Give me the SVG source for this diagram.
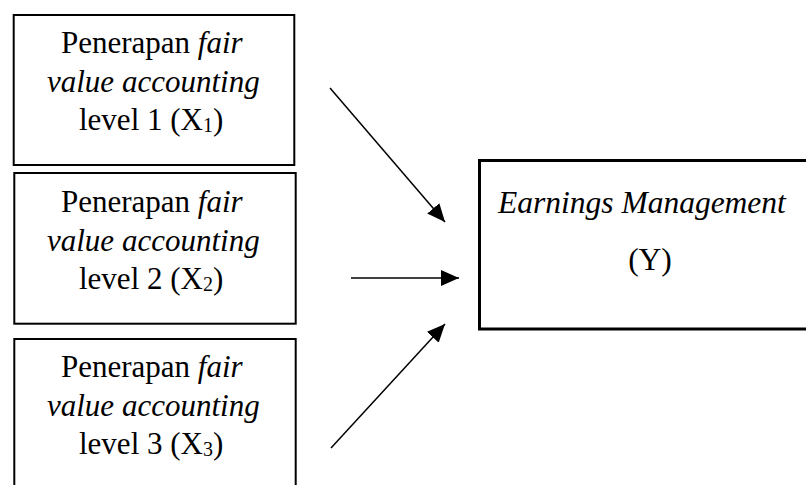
<svg xmlns="http://www.w3.org/2000/svg" width="806" height="485" viewBox="0 0 806 485">
<style>
  .box { fill: #ffffff; stroke: #000000; stroke-width: 2; }
  .boxy { fill: #ffffff; stroke: #000000; stroke-width: 3; }
  text { font-family: "Liberation Serif", "Times New Roman", serif; font-size: 31px; fill: #000000; }
  .it { font-style: italic; }
  .sub { font-size: 20px; }
  .conn { stroke: #000000; stroke-width: 1.5; fill: none; }
</style>
<defs>
  <marker id="ahb" viewBox="0 0 18 16" refX="18" refY="8" markerWidth="18" markerHeight="16" markerUnits="userSpaceOnUse" orient="auto">
    <path d="M0,0 L18,8 L0,16 Z" fill="#000000"/>
  </marker>
</defs>
<rect x="0" y="0" width="806" height="485" fill="#ffffff"/>

<g id="x1">
  <rect class="box" x="13.7" y="15" width="280.6" height="150"/>
  <text x="61" y="53">Penerapan <tspan class="it">fair</tspan></text>
  <text x="47" y="92" class="it">value accounting</text>
  <text x="79" y="130">level 1 (X<tspan class="sub" dy="2">1</tspan><tspan dy="-2">)</tspan></text>
</g>

<g id="x2">
  <rect class="box" x="14.3" y="173" width="281.4" height="150.7"/>
  <text x="61" y="212">Penerapan <tspan class="it">fair</tspan></text>
  <text x="47" y="251" class="it">value accounting</text>
  <text x="79" y="289">level 2 (X<tspan class="sub" dy="2">2</tspan><tspan dy="-2">)</tspan></text>
</g>

<g id="x3">
  <rect class="box" x="14.3" y="339" width="281.4" height="160"/>
  <text x="61" y="377">Penerapan <tspan class="it">fair</tspan></text>
  <text x="47" y="416" class="it">value accounting</text>
  <text x="79" y="454">level 3 (X<tspan class="sub" dy="2">3</tspan><tspan dy="-2">)</tspan></text>
</g>

<g id="y">
  <rect class="boxy" x="479.5" y="160.5" width="340" height="168.5"/>
  <text x="498" y="213" class="it" style="font-size:31.5px">Earnings Management</text>
  <text x="650" y="270" text-anchor="middle" style="font-size:31.5px">(Y)</text>
</g>

<g id="connectors">
  <line class="conn" x1="330" y1="88" x2="445" y2="222" marker-end="url(#ahb)"/>
  <line class="conn" x1="351" y1="278" x2="459" y2="278" marker-end="url(#ahb)"/>
  <line class="conn" x1="331" y1="448" x2="445" y2="324" marker-end="url(#ahb)"/>
</g>
</svg>
